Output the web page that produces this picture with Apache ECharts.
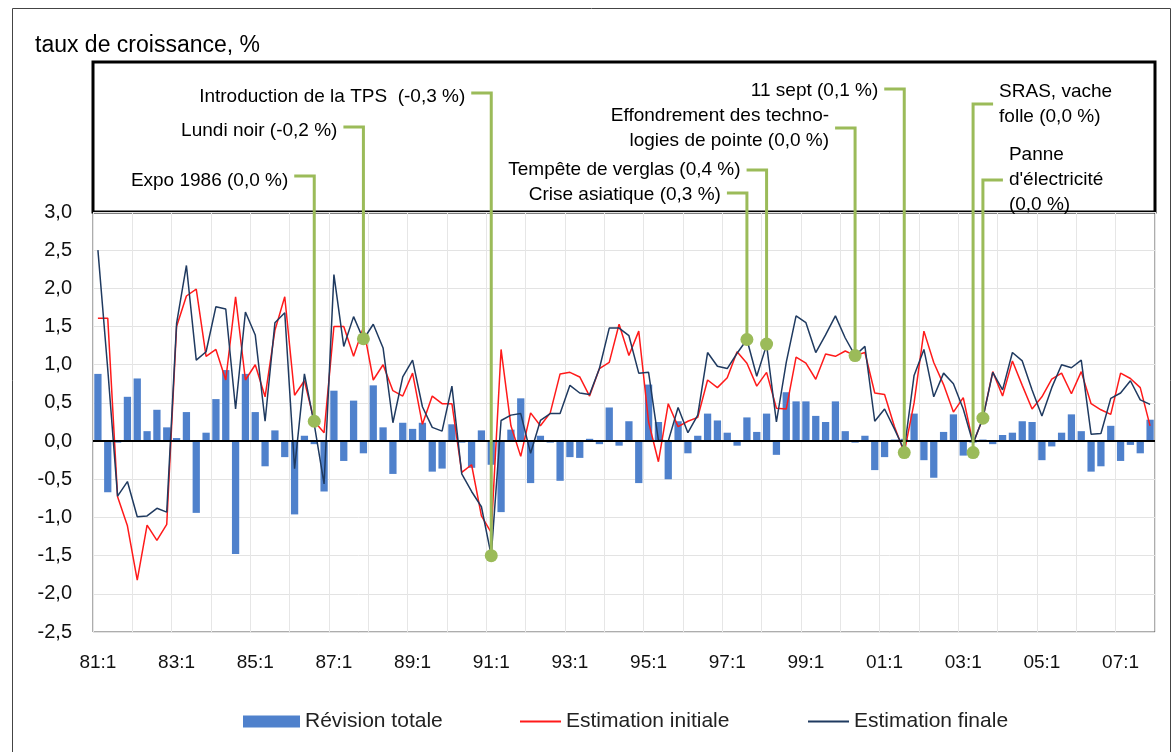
<!DOCTYPE html>
<html>
<head>
<meta charset="utf-8">
<title>Révisions de la croissance du PIB</title>
<script src="https://cdn.jsdelivr.net/npm/echarts@6/dist/echarts.min.js"></script>
<style>
  html, body { margin: 0; padding: 0; background: #fff; }
  #chart { width: 1174px; height: 752px; }
</style>
</head>
<body>
<div id="chart"></div>
<script>
// trimestres 81:1 ... 07:4
const quarters = [];
for (let y = 1981; y <= 2007; y++) {
  for (let q = 1; q <= 4; q++) quarters.push(String(y % 100).padStart(2, "0") + ":" + q);
}

const revisionTotale = [
  0.88, -0.67, -0.02, 0.58, 0.82, 0.13, 0.41, 0.18, 0.04, 0.38, -0.94, 0.11,
  0.55, 0.93, -1.48, 0.88, 0.38, -0.33, 0.14, -0.21, -0.96, 0.07, -0.04, -0.66,
  0.66, -0.26, 0.53, -0.16, 0.73, 0.18, -0.43, 0.24, 0.16, 0.24, -0.40, -0.36,
  0.22, -0.02, -0.35, 0.14, -0.31, -0.93, 0.15, 0.56, -0.55, 0.07, -0.02, -0.52,
  -0.21, -0.22, 0.03, -0.04, 0.44, -0.06, 0.26, -0.55, 0.74, 0.25, -0.50, 0.26,
  -0.16, 0.07, 0.36, 0.27, 0.11, -0.06, 0.31, 0.12, 0.36, -0.18, 0.64, 0.52,
  0.52, 0.33, 0.25, 0.52, 0.13, -0.02, 0.07, -0.38, -0.21, 0.02, 0.03, 0.36,
  -0.25, -0.48, 0.12, 0.35, -0.19, -0.02, 0.02, -0.04, 0.08, 0.11, 0.26, 0.25,
  -0.25, -0.07, 0.11, 0.35, 0.13, -0.40, -0.33, 0.20, -0.26, -0.05, -0.16, 0.28
];

const estimationInitiale = [
  1.61, 1.61, -0.73, -1.11, -1.82, -1.10, -1.30, -1.09, 1.50, 1.90, 1.99, 1.11,
  1.20, 0.80, 1.89, 0.80, 1.00, 0.58, 1.45, 1.89, 0.60, 0.79, 0.26, 0.11,
  1.50, 1.50, 1.11, 1.49, 0.80, 1.00, 0.66, 0.59, 0.89, 0.22, 0.59, 0.49,
  0.49, -0.41, -0.31, -0.98, -1.20, 1.20, 0.20, -0.20, 0.37, 0.20, 0.37, 0.88,
  0.90, 0.84, 0.59, 0.95, 1.03, 1.53, 1.12, 1.44, 0.25, -0.27, 0.49, 0.19,
  0.26, 0.31, 0.80, 0.70, 0.83, 1.17, 1.02, 0.72, 0.90, 0.43, 0.42, 1.10,
  1.02, 0.81, 1.14, 1.11, 1.18, 1.12, 1.16, 0.63, 0.61, 0.19, -0.15, 0.50,
  1.44, 1.03, 0.74, 0.38, 0.57, -0.03, 0.30, 0.91, 0.59, 1.05, 0.73, 0.42,
  0.58, 0.81, 0.89, 0.62, 0.91, 0.49, 0.41, 0.35, 0.89, 0.82, 0.70, 0.20
];

const estimationFinale = [
  2.50, 0.94, -0.72, -0.53, -0.99, -0.98, -0.88, -0.93, 1.54, 2.30, 1.06, 1.17,
  1.76, 1.73, 0.42, 1.69, 1.39, 0.26, 1.55, 1.68, -0.36, 0.88, 0.22, -0.56,
  2.18, 1.24, 1.63, 1.33, 1.53, 1.22, 0.24, 0.84, 1.06, 0.45, 0.18, 0.13,
  0.72, -0.43, -0.66, -0.86, -1.50, 0.27, 0.34, 0.36, -0.16, 0.27, 0.36, 0.36,
  0.73, 0.63, 0.61, 0.95, 1.48, 1.48, 1.38, 0.89, 0.90, 0.01, 0.00, 0.44,
  0.11, 0.34, 1.16, 0.98, 0.95, 1.15, 1.33, 0.85, 1.26, 0.25, 1.03, 1.64,
  1.55, 1.16, 1.39, 1.64, 1.35, 1.12, 1.24, 0.26, 0.42, 0.16, -0.12, 0.86,
  1.20, 0.58, 0.89, 0.75, 0.42, -0.03, 0.30, 0.90, 0.67, 1.16, 1.05, 0.67,
  0.33, 0.70, 1.00, 0.96, 1.06, 0.09, 0.10, 0.56, 0.63, 0.79, 0.54, 0.48
];

// événements annotés
const eventNames = [
  "Expo 1986 (0,0 %)",
  "Lundi noir (-0,2 %)",
  "Introduction de la TPS  (-0,3 %)",
  "Crise asiatique (0,3 %)",
  "Tempête de verglas (0,4 %)",
  "Effondrement des techno-\nlogies de pointe (0,0 %)",
  "11 sept (0,1 %)",
  "SRAS, vache\nfolle (0,0 %)",
  "Panne\nd'électricité\n(0,0 %)"
];
const eventQuarters = ["86:3", "87:4", "91:1", "97:3", "98:1", "00:2", "01:3", "03:2", "03:3"];
const eventValues = [0.26, 1.34, -1.50, 1.33, 1.27, 1.12, -0.15, -0.15, 0.30];

// position des étiquettes dans le cadre du haut (px) : y = trait, ty = texte
const labelLayout = [
  { y: 176, ty: 181, side: "left" },
  { y: 127, ty: 131, side: "left" },
  { y: 93, ty: 97, side: "left" },
  { y: 193, ty: 195, side: "left" },
  { y: 170, ty: 170, side: "left" },
  { y: 128, ty: 128, side: "left" },
  { y: 89, ty: 91, side: "left" },
  { y: 104, ty: 104, side: "right" },
  { y: 180, ty: 180, side: "right" }
];

const FONT = '"Liberation Sans", Arial, sans-serif';
const GREEN = "#9bbb59";

const chart = echarts.init(document.getElementById("chart"), null, { renderer: "canvas" });

const legendText = { fontFamily: FONT, fontSize: 21, color: "#222" };

const option = {
  animation: false,
  backgroundColor: "#fff",
  title: {
    text: "taux de croissance, %",
    left: 30,
    top: 29,
    textStyle: { fontFamily: FONT, fontSize: 23, fontWeight: "normal", color: "#000" }
  },
  grid: {
    left: 93,
    right: 19,
    top: 212,
    bottom: 120,
    show: true,
    borderColor: "#5a5a5a",
    borderWidth: 1
  },
  legend: [
    {
      data: ["Révision totale"],
      left: 238, top: 706,
      icon: "rect", itemWidth: 57, itemHeight: 12,
      textStyle: legendText
    },
    {
      data: ["Estimation initiale"],
      left: 515, top: 706,
      icon: "rect", itemWidth: 41, itemHeight: 2,
      textStyle: legendText
    },
    {
      data: ["Estimation finale"],
      left: 803, top: 706,
      icon: "rect", itemWidth: 41, itemHeight: 2,
      textStyle: legendText
    }
  ],
  xAxis: {
    type: "category",
    data: quarters,
    boundaryGap: true,
    axisLine: { show: false },
    axisTick: { show: false },
    axisLabel: {
      interval: (i) => i % 8 === 0,
      margin: 21,
      fontFamily: FONT,
      fontSize: 19,
      color: "#111"
    },
    splitLine: {
      show: true,
      interval: (i) => i % 4 === 0,
      lineStyle: { color: "#e6e6e6", width: 1 }
    }
  },
  yAxis: {
    type: "value",
    min: -2.5,
    max: 3,
    interval: 0.5,
    axisLine: { show: false },
    axisTick: { show: false },
    axisLabel: {
      margin: 21,
      fontFamily: FONT,
      fontSize: 20,
      color: "#111",
      formatter: (v) => v.toFixed(1).replace(".", ",")
    },
    splitLine: { lineStyle: { color: "#e3e3e3", width: 1 } }
  },
  graphic: [
    {
      type: "rect",
      shape: { x: 12.5, y: 8.5, width: 1158, height: 760 },
      style: { fill: null, stroke: "#444", lineWidth: 1 },
      silent: true, z: -1
    },
    {
      type: "rect",
      shape: { x: 93, y: 62, width: 1062, height: 150 },
      style: { fill: null, stroke: "#000", lineWidth: 3 },
      silent: true
    }
  ],
  series: [
    {
      name: "Révision totale",
      type: "bar",
      data: revisionTotale,
      barWidth: "74%",
      itemStyle: { color: "#4f81cc" },
      markLine: {
        silent: true,
        symbol: "none",
        label: { show: false },
        lineStyle: { color: "#000", width: 2, type: "solid" },
        data: [{ yAxis: 0 }]
      }
    },
    {
      name: "Estimation initiale",
      type: "line",
      data: estimationInitiale,
      symbol: "none",
      lineStyle: { color: "#ff1a1a", width: 1.5 },
      itemStyle: { color: "#ff1a1a" }
    },
    {
      name: "Estimation finale",
      type: "line",
      data: estimationFinale,
      symbol: "none",
      lineStyle: { color: "#1f3a60", width: 1.5 },
      itemStyle: { color: "#1f3a60" }
    },
    {
      name: "événements",
      type: "custom",
      clip: false,
      silent: true,
      z: 10,
      data: eventQuarters.map((q, k) => [q, eventValues[k], k]),
      renderItem: (params, api) => {
        const k = api.value(2);
        const pt = api.coord([api.value(0), api.value(1)]);
        const lay = labelLayout[k];
        const dir = lay.side === "left" ? -1 : 1;
        const x = pt[0];
        const x2 = x + dir * 20;
        return {
          type: "group",
          children: [
            {
              type: "polyline",
              shape: { points: [[x, pt[1]], [x, lay.y], [x2, lay.y]] },
              style: { stroke: GREEN, lineWidth: 3, fill: "none" }
            },
            {
              type: "circle",
              shape: { cx: x, cy: pt[1], r: 6.5 },
              style: { fill: GREEN }
            },
            {
              type: "text",
              x: x2 + dir * 6,
              y: lay.ty,
              style: {
                text: eventNames[k],
                align: lay.side === "left" ? "right" : "left",
                verticalAlign: "middle",
                fontFamily: FONT,
                fontSize: 19,
                lineHeight: 25,
                fill: "#000"
              }
            }
          ]
        };
      }
    }
  ]
};

chart.setOption(option);
</script>
</body>
</html>
